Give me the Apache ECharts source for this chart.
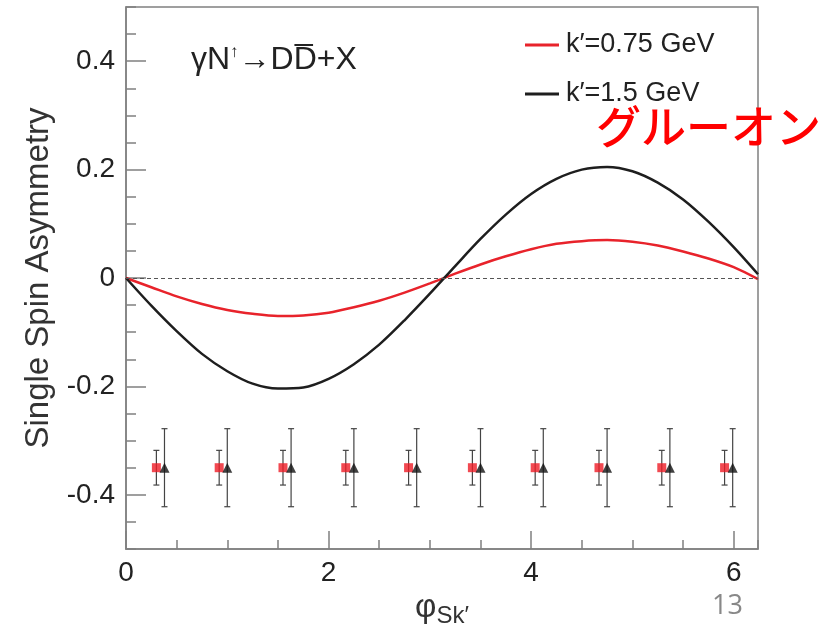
<!DOCTYPE html>
<html>
<head>
<meta charset="utf-8">
<script src="https://cdn.jsdelivr.net/npm/echarts@6/dist/echarts.min.js"></script>
<style>
html,body{margin:0;padding:0;background:#fff;}
#chart{width:826px;height:626px;}
</style>
</head>
<body>
<div id="chart"></div>
<script>
// ---- data ----
const phi = [0,0.25,0.5,0.75,1.0,1.25,1.5,1.75,2.0,2.25,2.5,2.75,3.0,3.25,3.5,3.75,4.0,4.25,4.5,4.75,5.0,5.25,5.5,5.75,6.0,6.24];
const ssaRed = [0,-0.017,-0.034,-0.048,-0.059,-0.066,-0.070,-0.069,-0.064,-0.054,-0.042,-0.027,-0.010,0.008,0.025,0.040,0.053,0.063,0.068,0.070,0.067,0.060,0.049,0.036,0.020,-0.002];
const ssaBlack = [0,-0.051,-0.098,-0.140,-0.172,-0.195,-0.204,-0.202,-0.186,-0.159,-0.123,-0.078,-0.029,0.022,0.072,0.117,0.155,0.183,0.200,0.205,0.197,0.176,0.145,0.104,0.057,0.007];

const binRedX = [0.30,0.92,1.55,2.17,2.79,3.42,4.04,4.67,5.29,5.91];
const binBlackX = [0.38,1.00,1.63,2.25,2.87,3.50,4.12,4.75,5.37,5.99];
const binY = [-0.35,-0.35,-0.35,-0.35,-0.35,-0.35,-0.35,-0.35,-0.35,-0.35];
const errRed = [0.032,0.032,0.032,0.032,0.032,0.032,0.032,0.032,0.032,0.032];
const errBlack = [0.072,0.072,0.072,0.072,0.072,0.072,0.072,0.072,0.072,0.072];

const xTickLabels = [0,2,4,6];
const yTickLabels = [-0.4,-0.2,0,0.2,0.4];
const seriesNames = ['k\u2032=0.75 GeV','k\u2032=1.5 GeV'];

// ---- build ----
const redLine = phi.map((x,i)=>[x, ssaRed[i]]);
const blackLine = phi.map((x,i)=>[x, ssaBlack[i]]);
const redPts = binRedX.map((x,i)=>[x, binY[i], errRed[i]]);
const blackPts = binBlackX.map((x,i)=>[x, binY[i], errBlack[i]]);

const AX = '#808080';
const FONT = 'Liberation Sans, Arial, sans-serif';
const XMAX = 6.24;

function errRender(params, api){
  const x = api.value(0), y = api.value(1), e = api.value(2);
  const top = api.coord([x, y+e]);
  const bot = api.coord([x, y-e]);
  const st = {stroke:'#444', lineWidth:1.2};
  const c = 3;
  return {type:'group', children:[
    {type:'line', shape:{x1:top[0],y1:top[1],x2:bot[0],y2:bot[1]}, style:st},
    {type:'line', shape:{x1:top[0]-c,y1:top[1],x2:top[0]+c,y2:top[1]}, style:st},
    {type:'line', shape:{x1:bot[0]-c,y1:bot[1],x2:bot[0]+c,y2:bot[1]}, style:st}
  ]};
}

const chart = echarts.init(document.getElementById('chart'), null, {renderer:'canvas'});
chart.setOption({
  animation:false,
  backgroundColor:'#fff',
  textStyle:{fontFamily:FONT},
  grid:{left:126, right:68, top:7, bottom:77, outerBoundsMode:'none', containLabel:false,
        show:true, borderColor:AX, borderWidth:1.5, backgroundColor:'transparent'},
  legend:{
    data:seriesNames, orient:'vertical', left:520, top:26, itemWidth:34, itemHeight:3, itemGap:21,
    icon:'rect',
    textStyle:{fontFamily:FONT, fontSize:27, lineHeight:28, color:'#222', padding:[0,0,0,2]}
  },
  xAxis:[
    {type:'value', min:0, max:XMAX, position:'bottom',
     axisLine:{show:true, onZero:false, lineStyle:{color:AX, width:1.5}},
     axisTick:{show:true, inside:true, length:18, customValues:xTickLabels, lineStyle:{color:AX, width:1.5}},
     axisLabel:{show:true, customValues:xTickLabels, fontSize:28, color:'#222', margin:10, fontFamily:FONT},
     splitLine:{show:false},
     name:'{p|\u03c6}{s|Sk\u2032}', nameLocation:'middle', nameGap:34,
     nameTextStyle:{rich:{p:{fontSize:33, fontFamily:FONT, color:'#333'}, s:{fontSize:24, fontFamily:FONT, color:'#333', padding:[16,0,0,0]}}}
    },
    {type:'value', min:0, max:XMAX, interval:0.5, position:'bottom',
     axisLine:{show:false, onZero:false}, axisLabel:{show:false}, splitLine:{show:false},
     axisTick:{show:true, inside:true, length:9, lineStyle:{color:AX, width:1.5}}
    }
  ],
  yAxis:[
    {type:'value', min:-0.5, max:0.5, interval:0.05, position:'left',
     axisLine:{show:true, onZero:false, lineStyle:{color:AX, width:1.5}},
     axisTick:{show:true, inside:true, length:10, lineStyle:{color:AX, width:1.5}},
     axisLabel:{show:false}, splitLine:{show:false}
    },
    {type:'value', min:-0.5, max:0.5, position:'left', offset:0,
     axisLine:{show:false, onZero:false}, splitLine:{show:false},
     axisTick:{show:true, inside:true, length:20, customValues:yTickLabels, lineStyle:{color:AX, width:1.5}},
     axisLabel:{show:true, customValues:yTickLabels, fontSize:28, color:'#222', margin:11, fontFamily:FONT,
       formatter:v=> (Math.abs(v)<1e-9 ? '0' : v.toFixed(1))},
     name:'Single Spin Asymmetry', nameLocation:'middle', nameGap:70, nameRotate:90,
     nameTextStyle:{fontSize:33, color:'#333', fontFamily:FONT}
    }
  ],
  series:[
    {name:seriesNames[0], type:'line', data:redLine, xAxisIndex:0, yAxisIndex:0, symbol:'none', smooth:0.3,
     lineStyle:{color:'#e8232b', width:2.5}, itemStyle:{color:'#e8232b'}, z:3},
    {name:seriesNames[1], type:'line', data:blackLine, xAxisIndex:0, yAxisIndex:0, symbol:'none', smooth:0.3,
     lineStyle:{color:'#1e1e1e', width:2.5}, itemStyle:{color:'#1e1e1e'}, z:3,
     markLine:{silent:true, symbol:'none', label:{show:false},
       lineStyle:{color:'#555', width:1, type:[4,3]}, data:[{yAxis:0}]}},
    {name:'errRed', type:'custom', renderItem:errRender, data:redPts, xAxisIndex:0, yAxisIndex:0, z:4},
    {name:'errBlack', type:'custom', renderItem:errRender, data:blackPts, xAxisIndex:0, yAxisIndex:0, z:4},
    {name:'ptRed', type:'scatter', data:redPts.map(p=>[p[0],p[1]]), symbol:'rect', symbolSize:9,
     itemStyle:{color:'#ee1c25'}, z:5},
    {name:'ptBlack', type:'scatter', data:blackPts.map(p=>[p[0],p[1]]), symbol:'triangle', symbolSize:[10,10],
     itemStyle:{color:'#111'}, z:5}
  ],
  graphic:[
    {type:'text', left:191, top:44, style:{
      text:'{a|\u03b3N}{s|\u2191}{a|\u2192DD\u0305+X}',
      rich:{a:{fontSize:32, fontFamily:FONT, fill:'#222'}, s:{fontSize:17, fontFamily:FONT, fill:'#222', padding:[0,0,16,0]}}
    }},
    {type:'text', left:596, top:104, style:{text:'グルーオン', fontSize:45, fontFamily:'Noto Sans CJK JP', fontWeight:500, fill:'#ff0000'}},
    {type:'text', left:712, top:593, style:{text:'13', fontSize:27, fontFamily:'Open Sans, Liberation Sans', fill:'#888'}}
  ]
});
</script>
</body>
</html>
